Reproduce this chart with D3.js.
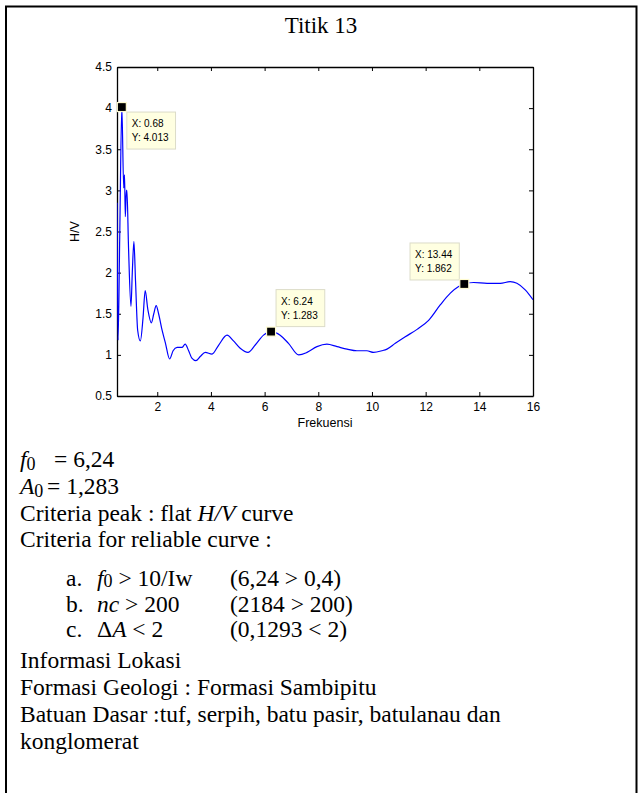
<!DOCTYPE html>
<html>
<head>
<meta charset="utf-8">
<script src="https://cdn.jsdelivr.net/npm/d3@7"></script>
<style>
  html, body { margin: 0; padding: 0; background: #fff; }
  svg { display: block; }
</style>
</head>
<body>
<svg id="fig" width="638" height="793"></svg>
<script>
// H/V spectral ratio of measurement point 13 (frequency in Hz)
const frequency = [
  0.50, 0.54, 0.60, 0.68, 0.75, 0.78, 0.81, 0.85, 0.87, 0.93,
  1.02, 1.07, 1.13, 1.19, 1.27, 1.37, 1.47, 1.55, 1.65, 1.78,
  1.87, 1.96, 2.05, 2.18, 2.30, 2.46, 2.59, 2.74, 2.92, 3.04,
  3.17, 3.29, 3.44, 3.60, 3.79, 4.04, 4.29, 4.60, 4.84, 5.09,
  5.38, 5.65, 5.96, 6.24, 6.58, 6.89, 7.27, 7.58, 7.95, 8.32,
  8.70, 9.07, 9.44, 9.81, 10.06, 10.37, 10.56, 10.87, 11.24, 11.68,
  12.11, 12.55, 12.92, 13.23, 13.44, 13.79, 14.29, 14.78, 15.15, 15.40,
  15.71, 16.00
];
const hvRatio = [
  2.85, 1.18, 2.40, 4.013, 3.03, 3.19, 2.68, 3.00, 3.00, 2.30,
  1.59, 2.00, 2.38, 1.90, 1.30, 1.17, 1.45, 1.78, 1.55, 1.39,
  1.50, 1.60, 1.50, 1.30, 1.15, 0.95, 1.05, 1.09, 1.09, 1.13,
  1.05, 0.96, 0.93, 0.98, 1.03, 1.01, 1.12, 1.24, 1.17, 1.08,
  1.03, 1.12, 1.24, 1.283, 1.24, 1.14, 1.00, 1.03, 1.10, 1.13,
  1.10, 1.07, 1.05, 1.05, 1.03, 1.05, 1.07, 1.14, 1.22, 1.31,
  1.42, 1.61, 1.75, 1.83, 1.862, 1.88, 1.87, 1.87, 1.89, 1.87,
  1.79, 1.67
];

// axis ticks
const xTickValues = [2, 4, 6, 8, 10, 12, 14, 16];
const xTickLabels = ["2", "4", "6", "8", "10", "12", "14", "16"];
const yTickValues = [0.5, 1, 1.5, 2, 2.5, 3, 3.5, 4, 4.5];
const yTickLabels = ["0.5", "1", "1.5", "2", "2.5", "3", "3.5", "4", "4.5"];

// data tips
const tipFreq = [0.68, 6.24, 13.44];
const tipHV = [4.013, 1.283, 1.862];
const tipTextX = ["X: 0.68", "X: 6.24", "X: 13.44"];
const tipTextY = ["Y: 4.013", "Y: 1.283", "Y: 1.862"];

// text around the chart
const titleText = "Titik 13";
const infoLines = [
  "Informasi Lokasi",
  "Formasi Geologi : Formasi Sambipitu",
  "Batuan Dasar :tuf, serpih, batu pasir, batulanau dan",
  "konglomerat"
];

const SANS = "'Liberation Sans', Arial, sans-serif";
const SERIF = "'Liberation Serif', 'Times New Roman', serif";
const BODY_SIZE = 23.5;
const SUB_SIZE = 18;

const svg = d3.select("#fig");

// page frame (open at the bottom)
svg.append("path")
  .attr("d", "M6,793 V6.5 H636.5 V793")
  .attr("fill", "none")
  .attr("stroke", "#000")
  .attr("stroke-width", 2);

svg.append("text")
  .attr("x", 321).attr("y", 33)
  .attr("text-anchor", "middle")
  .attr("font-family", SERIF)
  .attr("font-size", 23)
  .text(titleText);

// plot area
const plot = { left: 117, right: 533, top: 67, bottom: 396 };
const x = d3.scaleLinear().domain([0.5, 16]).range([plot.left, plot.right]);
const y = d3.scaleLinear().domain([0.5, 4.5]).range([plot.bottom, plot.top]);

function styleAxis(g) {
  g.selectAll("path.domain").attr("stroke", "#000").attr("stroke-width", 1.3);
  g.selectAll(".tick line").attr("stroke", "#000").attr("stroke-width", 1);
  g.selectAll(".tick text")
    .attr("font-family", SANS)
    .attr("font-size", 12)
    .attr("fill", "#000");
}

svg.append("g")
  .attr("transform", `translate(0,${plot.bottom})`)
  .call(d3.axisBottom(x).tickValues(xTickValues)
    .tickFormat((d, i) => xTickLabels[i])
    .tickSizeInner(-4).tickSizeOuter(0).tickPadding(6))
  .call(styleAxis);

svg.append("g")
  .attr("transform", `translate(0,${plot.top})`)
  .call(d3.axisTop(x).tickValues(xTickValues).tickFormat("")
    .tickSizeInner(-4).tickSizeOuter(0))
  .call(styleAxis);

svg.append("g")
  .attr("transform", `translate(${plot.left},0)`)
  .call(d3.axisLeft(y).tickValues(yTickValues)
    .tickFormat((d, i) => yTickLabels[i])
    .tickSizeInner(-4).tickSizeOuter(0).tickPadding(5))
  .call(styleAxis);

svg.append("g")
  .attr("transform", `translate(${plot.right},0)`)
  .call(d3.axisRight(y).tickValues(yTickValues).tickFormat("")
    .tickSizeInner(-4).tickSizeOuter(0))
  .call(styleAxis);

// axis labels
svg.append("text")
  .attr("x", (plot.left + plot.right) / 2).attr("y", 427)
  .attr("text-anchor", "middle")
  .attr("font-family", SANS).attr("font-size", 12.5)
  .text("Frekuensi");

svg.append("text")
  .attr("transform", `translate(79,${(plot.top + plot.bottom) / 2}) rotate(-90)`)
  .attr("text-anchor", "middle")
  .attr("font-family", SANS).attr("font-size", 12.5)
  .text("H/V");

// H/V curve
svg.append("clipPath").attr("id", "plotClip")
  .append("rect")
  .attr("x", plot.left).attr("y", plot.top)
  .attr("width", plot.right - plot.left).attr("height", plot.bottom - plot.top);

const line = d3.line()
  .x((d, i) => x(frequency[i]))
  .y((d, i) => y(hvRatio[i]))
  .curve(d3.curveMonotoneX);

svg.append("path")
  .attr("d", line(frequency))
  .attr("clip-path", "url(#plotClip)")
  .attr("fill", "none")
  .attr("stroke", "#0000ff")
  .attr("stroke-width", 1.2)
  .attr("stroke-linejoin", "round");

// data tips: marker + yellow label box
const tipPlacement = [
  { dx: 5, dy: 5 },      // below-right
  { dx: 5, dy: -42 },    // above-right
  { dx: -55, dy: -41 }   // above-left
];

tipFreq.forEach((f, i) => {
  const px = x(f), py = y(tipHV[i]);
  const g = svg.append("g");
  const box = g.append("rect");
  const t1 = g.append("text").text(tipTextX[i]);
  const t2 = g.append("text").text(tipTextY[i]);
  [t1, t2].forEach(t => t
    .attr("font-family", SANS).attr("font-size", 10).attr("fill", "#000"));
  const w = Math.max(t1.node().getComputedTextLength(), t2.node().getComputedTextLength()) + 12;
  const h = 37;
  let bx = px + tipPlacement[i].dx;
  if (tipPlacement[i].dx < 0) bx = px + tipPlacement[i].dx + (50 - w);
  const by = py + tipPlacement[i].dy;
  box.attr("x", bx).attr("y", by).attr("width", w).attr("height", h)
    .attr("fill", "#ffffe1").attr("stroke", "#dcdcc8").attr("stroke-width", 1);
  t1.attr("x", bx + 5).attr("y", by + 15);
  t2.attr("x", bx + 5).attr("y", by + 29);
  g.append("rect")
    .attr("x", px - 4.5).attr("y", py - 4.5).attr("width", 9).attr("height", 9)
    .attr("fill", "#000").attr("stroke", "#fffbd0").attr("stroke-width", 1.2);
});

// parameter block
const txt = svg.append("g")
  .attr("font-family", SERIF).attr("font-size", BODY_SIZE).attr("fill", "#000");

// italic symbol with a lowered subscript, followed by normal text on the baseline
function symbolLine(xPos, yPos, symbol, subscript, rest, shift) {
  const t = txt.append("text").attr("x", xPos).attr("y", yPos);
  t.append("tspan").attr("font-style", "italic").text(symbol);
  t.append("tspan").attr("font-size", SUB_SIZE).attr("dy", shift).text(subscript);
  if (rest) t.append("tspan").attr("dy", -shift).text(rest);
  return t;
}

const rowY = [467, 494, 521, 547];
symbolLine(20, rowY[0], "f", "0", null, 3);
txt.append("text").attr("x", 54).attr("y", rowY[0]).text("= 6,24");

symbolLine(20, rowY[1], "A", "0", null, 3);
txt.append("text").attr("x", 47).attr("y", rowY[1]).text("= 1,283");

let t = txt.append("text").attr("x", 20).attr("y", rowY[2]);
t.append("tspan").text("Criteria peak : flat ");
t.append("tspan").attr("font-style", "italic").text("H/V");
t.append("tspan").text(" curve");

txt.append("text").attr("x", 20).attr("y", rowY[3]).text("Criteria for reliable curve :");

// list items a-c
const listY = [586, 612, 637];
["a.", "b.", "c."].forEach((m, i) => {
  txt.append("text").attr("x", 66).attr("y", listY[i]).text(m);
});

symbolLine(97, listY[0], "f", "0", " > 10/Iw", 1);
txt.append("text").attr("x", 230).attr("y", listY[0]).text("(6,24 > 0,4)");

t = txt.append("text").attr("x", 97).attr("y", listY[1]);
t.append("tspan").attr("font-style", "italic").text("nc");
t.append("tspan").text(" > 200");
txt.append("text").attr("x", 230).attr("y", listY[1]).text("(2184 > 200)");

t = txt.append("text").attr("x", 97).attr("y", listY[2]);
t.append("tspan").text("\u0394");
t.append("tspan").attr("font-style", "italic").text("A");
t.append("tspan").text(" < 2");
txt.append("text").attr("x", 230).attr("y", listY[2]).text("(0,1293 < 2)");

const infoY = [668, 695, 722, 749];
infoLines.forEach((s, i) => {
  txt.append("text").attr("x", 20).attr("y", infoY[i]).text(s);
});
</script>
</body>
</html>
